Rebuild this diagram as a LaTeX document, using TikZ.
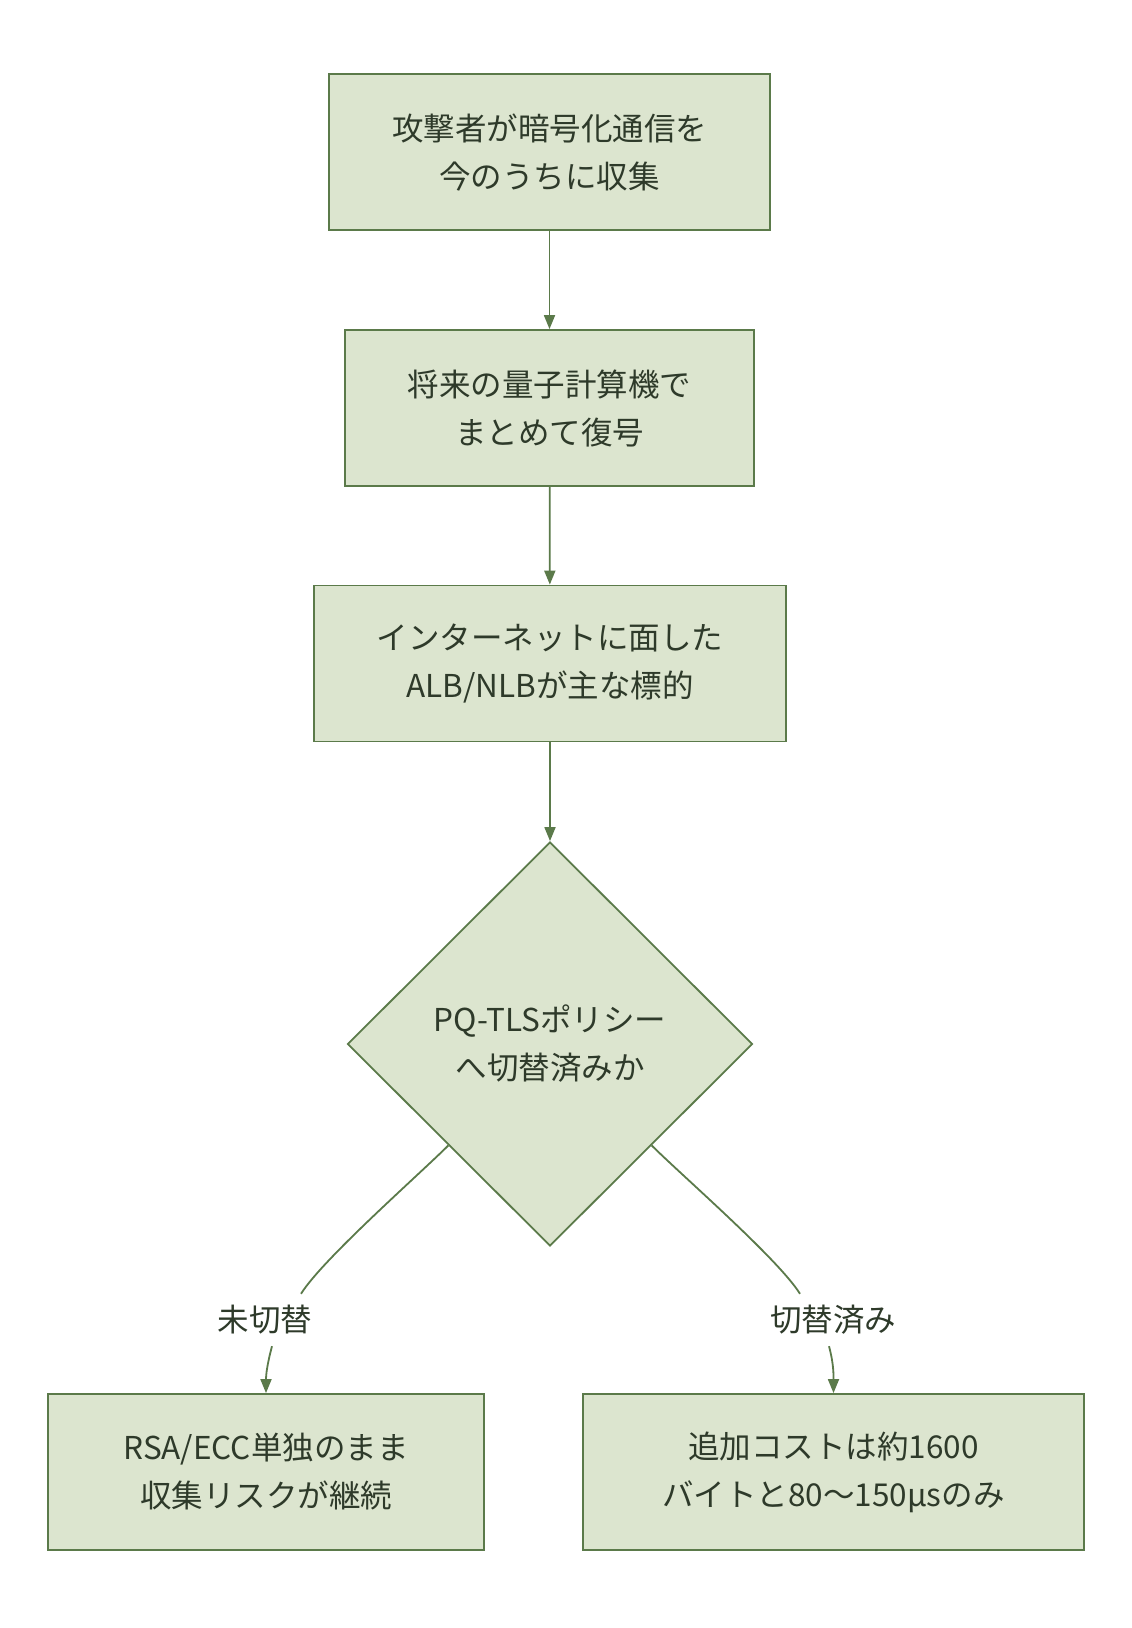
\documentclass[tikz,border=0pt]{standalone}
\usepackage{fontspec}
\setmainfont{Noto Sans CJK JP}
\usetikzlibrary{
    shapes.geometric,
    arrows.meta
}
\definecolor{boxfill}{HTML}{DCE5CF}
\definecolor{boxline}{HTML}{5B7A4A}
\definecolor{ink}{HTML}{2E3A2A}
\tikzset{
    % Process box style
    process/.style={
        rectangle,
        minimum height=156pt,
        align=center,
        font=\fontsize{31.5pt}{48pt}\selectfont,
        text=ink,
        draw=boxline,
        fill=boxfill,
        line width=1.8pt
    },
    % Decision style
    decision/.style={
        diamond,
        aspect=1,
        inner sep=0pt,
        minimum width=405pt,
        minimum height=404pt,
        align=center,
        font=\fontsize{31.5pt}{48pt}\selectfont,
        text=ink,
        draw=boxline,
        fill=boxfill,
        line width=1.8pt
    },
    % Arrow styles
    flow/.style={
        -{Triangle[length=14pt, width=11pt]},
        line width=1.8pt,
        color=boxline
    },
    branch/.style={
        line width=1.8pt,
        color=boxline
    },
    % Label style
    branch label/.style={
        font=\fontsize{31.5pt}{48pt}\selectfont,
        text=ink,
        minimum height=52pt,
        inner sep=2pt
    }
}

\begin{document}
\begin{tikzpicture}[x=1pt, y=1pt]
        \useasboundingbox[fill=white] (0,0) rectangle (1132,-1628);

        % Attack chain
        \node[process, minimum width=441pt] (harvest) at (549.5, -152) {攻撃者が暗号化通信を\\今のうちに収集};
        \node[process, minimum width=409pt] (decrypt) at (549.5, -408) {将来の量子計算機で\\まとめて復号};
        \node[process, minimum width=472pt] (target) at (550, -663.5) {インターネットに面した\\ALB/NLBが主な標的};

        % Decision
        \node[decision] (policy) at (550, -1044) {PQ-TLSポリシー\\へ切替済みか};

        % Branch labels
        \node[branch label] (notyet) at (265, -1320) {未切替};
        \node[branch label] (done) at (833, -1320) {切替済み};

        % Outcomes
        \node[process, minimum width=436pt] (risk) at (266, -1472) {RSA/ECC単独のまま\\収集リスクが継続};
        \node[process, minimum width=501pt] (cost) at (833.5, -1472) {追加コストは約1600\\バイトと80〜150μsのみ};

        % Connections
        \draw[flow] (harvest) -- (decrypt);
        \draw[flow] (decrypt) -- (target);
        \draw[flow] (target) -- (policy);
        \draw[branch] (policy.south west) to[out=-135, in=58, looseness=0.5] ([xshift=36pt]notyet.north);
        \draw[flow] ([xshift=7pt]notyet.south) to[out=-105, in=90] (risk.north);
        \draw[branch] (policy.south east) to[out=-45, in=122, looseness=0.5] ([xshift=-33pt]done.north);
        \draw[flow] ([xshift=-4pt]done.south) to[out=-75, in=90] (cost.north);

    \end{tikzpicture}
\end{document}
